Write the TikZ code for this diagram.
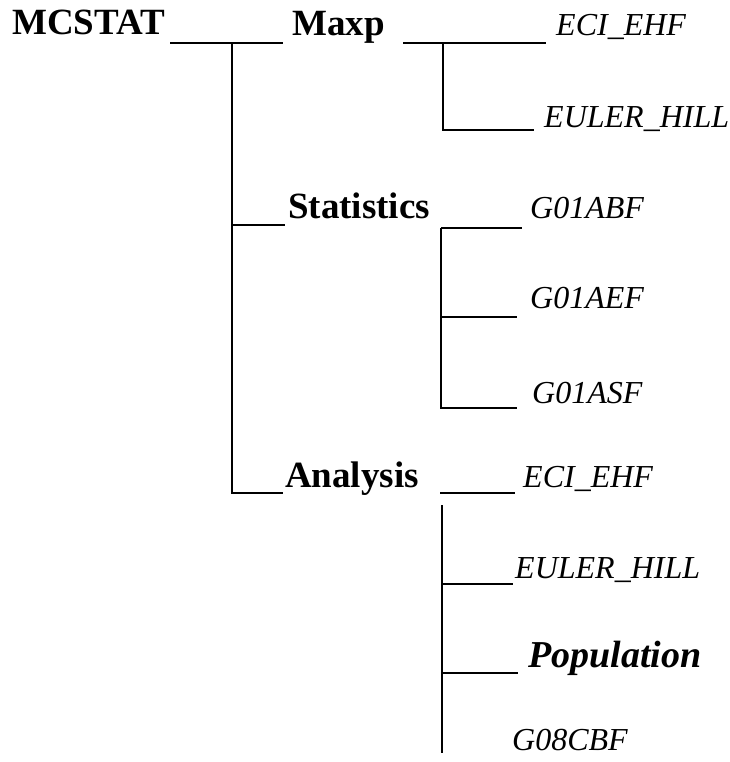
\documentclass[tikz,border=0pt]{standalone}
\usepackage{fontspec}
\setmainfont{Liberation Serif}
\begin{document}
\begin{tikzpicture}[x=1pt,y=-1pt,
  lbl/.style={anchor=base west,inner sep=0pt},
  grp/.style={lbl,font=\fontsize{37}{42}\selectfont\bfseries},
  leaf/.style={lbl,font=\fontsize{32}{36}\selectfont\itshape},
  leafbold/.style={lbl,font=\fontsize{38}{42}\selectfont\bfseries\itshape},
  wire/.style={line width=1.6pt}]
\useasboundingbox (0,0) rectangle (729,762);

% group and program names
\node[grp] (root) at (12,35) {MCSTAT};
\node[grp] (maxp) at (292,36) {Maxp};
\node[grp] (stat) at (288,218) {Statistics};
\node[grp] (anal) at (285,487) {Analysis};

\node[leaf] (m1) at (556,36) {ECI\_EHF};
\node[leaf] (m2) at (544,128) {EULER\_HILL};
\node[leaf] (s1) at (530,218) {G01ABF};
\node[leaf] (s2) at (530,308) {G01AEF};
\node[leaf] (s3) at (532,403) {G01ASF};
\node[leaf] (a1) at (523,487) {ECI\_EHF};
\node[leaf] (a2) at (515,578) {EULER\_HILL};
\node[leafbold] (a3) at (528,667) {Population};
\node[leaf] (a4) at (512,750) {G08CBF};

% junction points of the tree
\coordinate (r0) at (170,43);
\coordinate (r1) at (283,43);
\coordinate (rt) at (232,43);
\coordinate (rs) at (232,225);
\coordinate (rse) at (285,225);
\coordinate (ra) at (232,493);
\coordinate (rae) at (283,493);

\coordinate (mp0) at (403,43);
\coordinate (mp1) at (546,43);
\coordinate (mpt) at (443,43);
\coordinate (mpb) at (443,130);
\coordinate (mpe) at (534,130);

\coordinate (st0) at (441,228);
\coordinate (st1) at (522,228);
\coordinate (st2) at (441,317);
\coordinate (st2e) at (517,317);
\coordinate (st3) at (441,408);
\coordinate (st3e) at (517,408);

\coordinate (an0) at (440,493);
\coordinate (an1) at (515,493);
\coordinate (ant) at (442,505);
\coordinate (anb) at (442,753);
\coordinate (an2) at (442,584);
\coordinate (an2e) at (513,584);
\coordinate (an3) at (442,673);
\coordinate (an3e) at (518,673);

% MCSTAT branches
\draw[wire] (r0) -- (r1);
\draw[wire] (rt) -- (ra) -- (rae);
\draw[wire] (rs) -- (rse);

% Maxp branches
\draw[wire] (mp0) -- (mp1);
\draw[wire] (mpt) -- (mpb) -- (mpe);

% Statistics branches
\draw[wire] (st0) -- (st1);
\draw[wire] (st0) -- (st3) -- (st3e);
\draw[wire] (st2) -- (st2e);

% Analysis branches
\draw[wire] (an0) -- (an1);
\draw[wire] (ant) -- (anb);
\draw[wire] (an2) -- (an2e);
\draw[wire] (an3) -- (an3e);
\end{tikzpicture}
\end{document}
